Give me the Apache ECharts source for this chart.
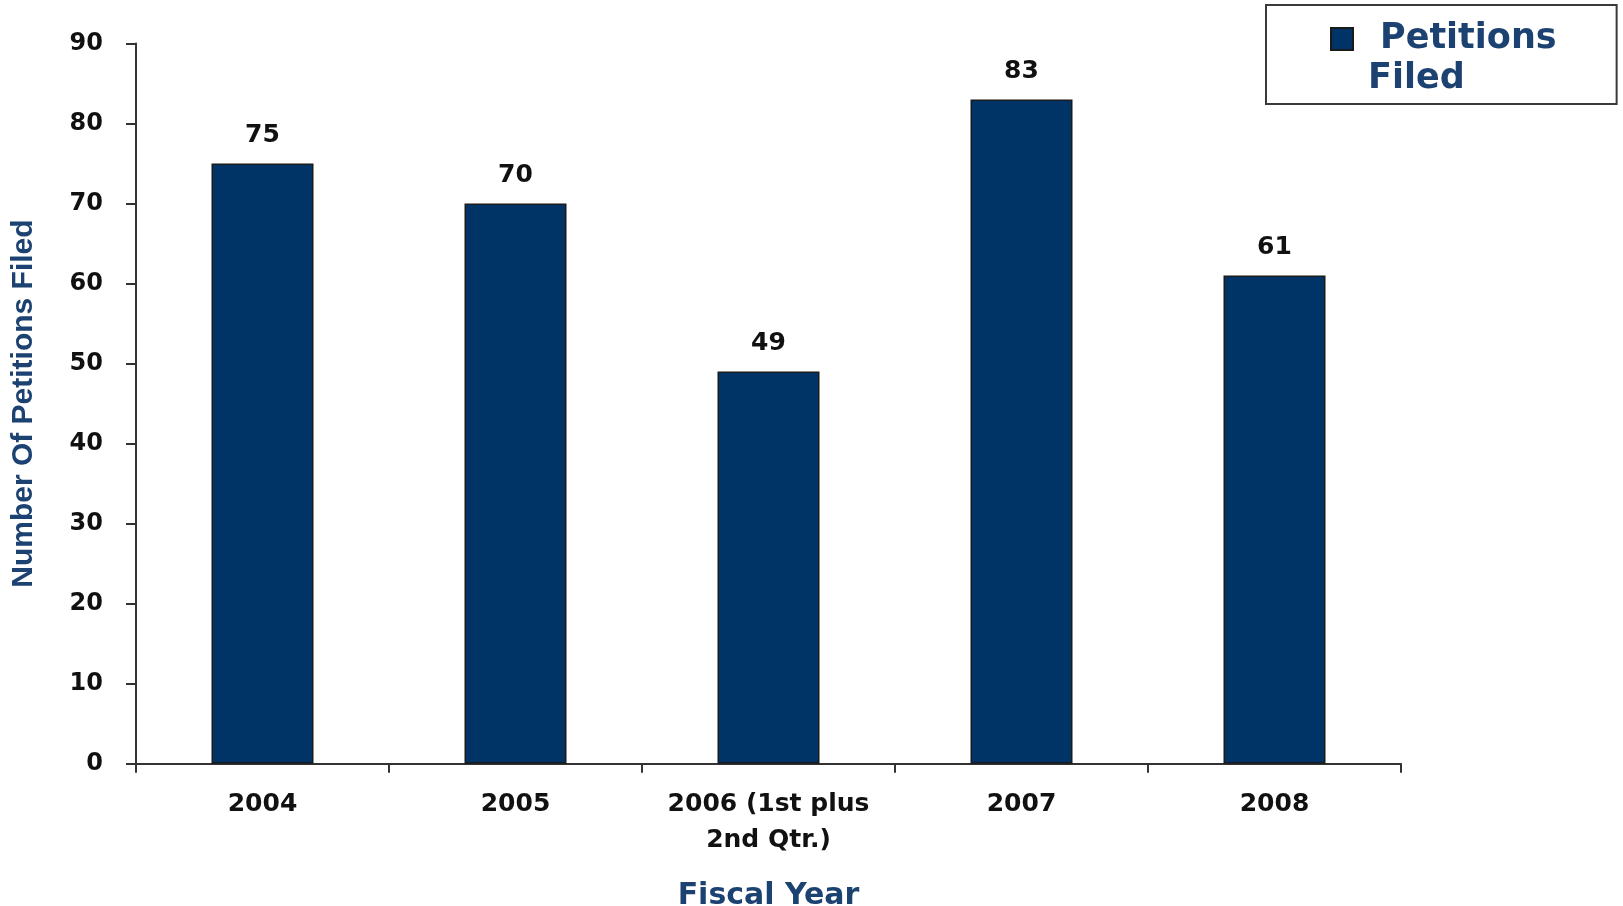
<!DOCTYPE html>
<html>
<head>
<meta charset="utf-8">
<title>Petitions Filed by Fiscal Year</title>
<script src="https://cdn.jsdelivr.net/npm/echarts@6/dist/echarts.min.js"></script>
<style>
  html, body { margin: 0; padding: 0; background: #ffffff; }
  #chart { width: 1623px; height: 906px; }
</style>
</head>
<body>
<div id="chart"></div>
<script>
// Fiscal years on the category axis
const categories = ['2004', '2005', '2006 (1st plus\n2nd Qtr.)', '2007', '2008'];
// Number of petitions filed per fiscal year
const petitionsFiled = [75, 70, 49, 83, 61];
// Value axis range and step
const yMin = 0;
const yMax = 90;
const yStep = 10;

const NAVY = '#003366';
const TITLE_BLUE = '#1c4272';
const WIDE = "'DejaVu Sans', 'Liberation Sans', Arial, sans-serif";
const TIGHT = "'Liberation Sans', Arial, sans-serif";

const chart = echarts.init(document.getElementById('chart'), null, { renderer: 'canvas' });

chart.setOption({
  animation: false,
  backgroundColor: '#ffffff',
  grid: {
    left: 136, right: 222, top: 43.5, bottom: 142.3,
    containLabel: false,
    outerBoundsMode: 'none'
  },
  legend: {
    data: ['Petitions Filed'],
    left: 1266,
    top: 5,
    orient: 'vertical',
    padding: [14, 60, 5, 64],
    borderColor: '#3a3a3a',
    borderWidth: 2,
    itemWidth: 24,
    itemHeight: 62,
    // square sits at the top of the icon box so it lines up with the first text line
    icon: 'path://M0,0L10,0L10,10L0,10Z M0,28.2',
    formatter: function () { return '{a|Petitions}\n{b|Filed}'; },
    textStyle: {
      fontFamily: WIDE, fontWeight: 'bold', fontSize: 35, color: TITLE_BLUE, lineHeight: 40,
      rich: {
        a: { fontFamily: WIDE, fontWeight: 'bold', fontSize: 35, color: TITLE_BLUE, lineHeight: 40, padding: [0, 0, 0, 21] },
        b: { fontFamily: WIDE, fontWeight: 'bold', fontSize: 35, color: TITLE_BLUE, lineHeight: 40, padding: [0, 0, 0, 9] }
      }
    }
  },
  xAxis: {
    type: 'category',
    data: categories,
    name: 'Fiscal Year',
    nameLocation: 'middle',
    nameGap: 118,
    nameTextStyle: { fontFamily: WIDE, fontWeight: 'bold', fontSize: 30, color: TITLE_BLUE },
    axisLine: { show: true, lineStyle: { color: '#333333', width: 2 } },
    axisTick: { show: true, alignWithLabel: false, length: 9, lineStyle: { color: '#333333', width: 2 } },
    axisLabel: {
      margin: 23,
      fontFamily: WIDE, fontWeight: 'bold', fontSize: 25, color: '#111111',
      lineHeight: 36, interval: 0
    },
    splitLine: { show: false }
  },
  yAxis: {
    type: 'value',
    min: yMin,
    max: yMax,
    interval: yStep,
    name: 'Number Of Petitions Filed',
    nameLocation: 'middle',
    nameRotate: 90,
    nameGap: 97,
    nameTextStyle: {
      fontFamily: TIGHT, fontWeight: 'bold', fontSize: 30, color: TITLE_BLUE
    },
    axisLine: { show: true, lineStyle: { color: '#333333', width: 2 } },
    axisTick: { show: true, inside: false, length: 10, lineStyle: { color: '#333333', width: 2 } },
    axisLabel: { margin: 33, fontFamily: WIDE, fontWeight: 'bold', fontSize: 24, color: '#111111' },
    splitLine: { show: false }
  },
  series: [{
    name: 'Petitions Filed',
    type: 'bar',
    data: petitionsFiled,
    barWidth: 102,
    itemStyle: { color: NAVY, borderColor: '#1a1a1a', borderWidth: 1.5 },
    label: {
      show: true,
      position: 'top',
      distance: 16,
      fontFamily: WIDE, fontWeight: 'bold', fontSize: 25, color: '#111111'
    }
  }]
});
</script>
</body>
</html>
